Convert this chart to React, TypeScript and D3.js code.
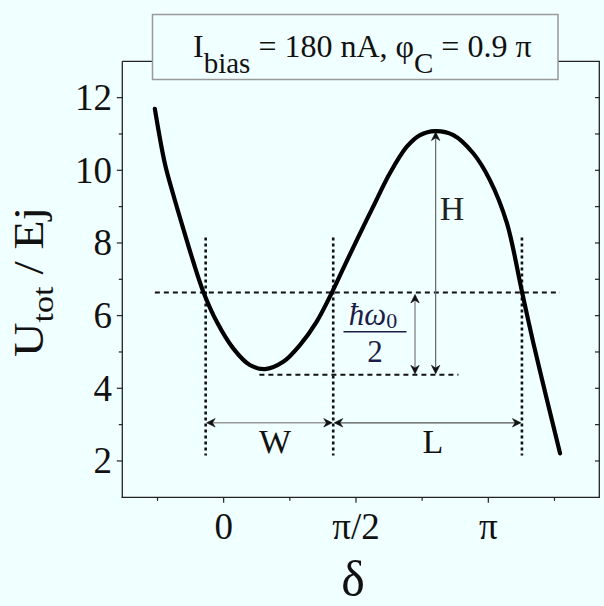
import React from "react";
import * as d3 from "d3";

// ---- data ----
const deltaPi = [-0.260, -0.222, -0.190, -0.153, -0.115, -0.077, -0.026, 0.036, 0.099, 0.156, 0.225, 0.288, 0.351, 0.408, 0.452, 0.503, 0.565, 0.628, 0.692, 0.742, 0.799, 0.868, 0.943, 1.006, 1.070, 1.126, 1.170, 1.221, 1.271];
const uValues = [11.69, 10.18, 9.32, 8.40, 7.49, 6.66, 5.83, 5.10, 4.64, 4.53, 4.73, 5.19, 5.83, 6.62, 7.30, 8.08, 9.00, 9.92, 10.65, 10.97, 11.08, 10.97, 10.47, 9.73, 8.55, 6.70, 5.25, 3.70, 2.21];

const yMajorTicks = [2, 4, 6, 8, 10, 12];
const yMinorTicks = [3, 5, 7, 9, 11];
const yAllTicks = [2, 3, 4, 5, 6, 7, 8, 9, 10, 11, 12];
const xMajorTicks = [0, 0.5, 1];
const xTickLabels = ["0", "π/2", "π"];
const xMinorTicks = [-0.25, 0.25, 0.75, 1.25];

// annotation values
const levelU = 6.64; // ħω0/2 level
const groundU = 4.37; // lower dashed level
const maxU = 11.08;
const crossings = [-0.068, 0.414, 1.127];
const vLineTopU = 8.15;
const vLineBottomU = 2.15;
const levelSpan = [-0.26, 1.271];
const groundSpan = [0.135, 0.887];
const hbarArrowX = 0.723;
const hArrowX = 0.801;
const wlArrowU = 3.05;

const W = 604;
const H = 606;
const BG = "#f0ffff";
const FONT = "'Liberation Serif', 'Times New Roman', serif";

function Arrow({ x, y, angle, color = "#111" }: { x: number; y: number; angle: number; color?: string }) {
  return (
    <path
      d="M0,0 L-8.5,-4.2 L-5.8,0 L-8.5,4.2 Z"
      transform={`translate(${x},${y}) rotate(${angle})`}
      fill={color}
      stroke={color}
      strokeWidth={0.6}
      strokeLinejoin="round"
    />
  );
}

export default function App() {
  const x = d3.scaleLinear().domain([-0.383, 1.422]).range([122.3, 600]);
  const y = d3.scaleLinear().domain([1, 13]).range([497.3, 61.3]);

  const pts: [number, number][] = deltaPi.map((d, i) => [d, uValues[i]]);
  const line = d3
    .line<[number, number]>()
    .x((d) => x(d[0]))
    .y((d) => y(d[1]))
    .curve(d3.curveCatmullRom.alpha(0.5));

  const x0 = x.range()[0];
  const x1 = x.range()[1];
  const yTop = y.range()[1];
  const yBot = y.range()[0];

  return (
    <div style={{ position: "fixed", left: 0, top: 0, width: W, height: H }}>
      <svg width={W} height={H} style={{ display: "block", fontFamily: FONT }}>
        <rect x={0} y={0} width={W} height={H} fill={BG} />

        {/* frame */}
        <g stroke="#222" strokeWidth={1.3} fill="none">
          <line x1={x0} y1={yTop} x2={x1} y2={yTop} />
          <line x1={x1 - 0.7} y1={yTop} x2={x1 - 0.7} y2={yBot} />
          <line x1={x0} y1={yTop} x2={x0} y2={yBot + 0.6} />
          <line x1={x0 - 0.6} y1={yBot} x2={x1} y2={yBot} />
        </g>

        {/* ticks */}
        <g stroke="#222" strokeWidth={1.2}>
          {yMajorTicks.map((t) => (
            <line key={"ym" + t} x1={x0 - 5.5} x2={x0} y1={y(t)} y2={y(t)} />
          ))}
          {yMinorTicks.map((t) => (
            <line key={"yn" + t} x1={x0 - 3.5} x2={x0} y1={y(t)} y2={y(t)} />
          ))}
          {yAllTicks.map((t) => (
            <line key={"yr" + t} x1={x1 - 5} x2={x1} y1={y(t)} y2={y(t)} />
          ))}
          {xMajorTicks.map((t) => (
            <line key={"xm" + t} x1={x(t)} x2={x(t)} y1={yBot} y2={yBot + 5.5} />
          ))}
          {xMinorTicks.map((t) => (
            <line key={"xn" + t} x1={x(t)} x2={x(t)} y1={yBot} y2={yBot + 3.5} />
          ))}
        </g>

        {/* tick labels */}
        <g fontSize={37} fill="#111">
          {yMajorTicks.map((t) => (
            <text key={"yl" + t} x={112} y={y(t) + 12.5} textAnchor="end">
              {t}
            </text>
          ))}
          {xMajorTicks.map((t, i) => (
            <text key={"xl" + t} x={x(t)} y={538.5} textAnchor="middle">
              {xTickLabels[i]}
            </text>
          ))}
        </g>

        {/* axis titles */}
        <text x={353} y={596} fontSize={50} textAnchor="middle" fill="#111">
          δ
        </text>
        <text
          transform={`translate(43,282) rotate(-90)`}
          fontSize={42}
          textAnchor="middle"
          fill="#111"
          textLength={150}
          lengthAdjust="spacingAndGlyphs"
        >
          <tspan>U</tspan>
          <tspan fontSize={30} dy={10}>tot</tspan>
          <tspan dy={-10}>{" / Ej"}</tspan>
        </text>

        {/* horizontal dashed levels */}
        <line
          x1={x(levelSpan[0])}
          x2={x(levelSpan[1])}
          y1={y(levelU)}
          y2={y(levelU)}
          stroke="#111"
          strokeWidth={2}
          strokeDasharray="5,4"
        />
        <line
          x1={x(groundSpan[0])}
          x2={x(groundSpan[1])}
          y1={y(groundU)}
          y2={y(groundU)}
          stroke="#111"
          strokeWidth={2}
          strokeDasharray="5,4"
        />

        {/* vertical dotted lines */}
        {crossings.map((c) => (
          <line
            key={"v" + c}
            x1={x(c)}
            x2={x(c)}
            y1={y(vLineTopU)}
            y2={y(vLineBottomU)}
            stroke="#111"
            strokeWidth={2.6}
            strokeDasharray="3,3"
          />
        ))}

        {/* H arrow */}
        <line x1={x(hArrowX)} x2={x(hArrowX)} y1={y(maxU) + 2} y2={y(groundU) - 2} stroke="#666" strokeWidth={1.2} />
        <Arrow x={x(hArrowX)} y={y(maxU) + 1} angle={-90} />
        <Arrow x={x(hArrowX)} y={y(groundU) - 1} angle={90} />
        <text x={x(hArrowX) + 4} y={219.5} fontSize={34} fill="#222">
          H
        </text>

        {/* ħω0/2 arrow */}
        <line x1={x(hbarArrowX)} x2={x(hbarArrowX)} y1={y(levelU) + 3} y2={y(groundU) - 2} stroke="#999" strokeWidth={1.6} />
        <Arrow x={x(hbarArrowX)} y={y(levelU) + 2} angle={-90} />
        <Arrow x={x(hbarArrowX)} y={y(groundU) - 1} angle={90} />
        <g fill="#1c1c48">
          <text x={373} y={325} fontSize={31} textAnchor="middle" fontStyle="italic">
            <tspan>ħω</tspan>
            <tspan fontSize={22} fontStyle="normal" dy={3}>0</tspan>
          </text>
          <line x1={343.5} x2={406.5} y1={331.7} y2={331.7} stroke="#1c1c48" strokeWidth={1.6} />
          <text x={375} y={362} fontSize={31} textAnchor="middle">
            2
          </text>
        </g>

        {/* W / L arrows */}
        <line x1={x(crossings[0]) + 2} x2={x(crossings[1]) - 2} y1={y(wlArrowU)} y2={y(wlArrowU)} stroke="#999" strokeWidth={1.5} />
        <line x1={x(crossings[1]) + 2} x2={x(crossings[2]) - 2} y1={y(wlArrowU)} y2={y(wlArrowU)} stroke="#555" strokeWidth={1.2} />
        <Arrow x={x(crossings[0]) + 1} y={y(wlArrowU)} angle={180} />
        <Arrow x={x(crossings[1]) - 1} y={y(wlArrowU)} angle={0} />
        <Arrow x={x(crossings[1]) + 1} y={y(wlArrowU)} angle={180} />
        <Arrow x={x(crossings[2]) - 1} y={y(wlArrowU)} angle={0} />
        <text x={275} y={453} fontSize={34} textAnchor="middle" fill="#111">
          W
        </text>
        <text x={433} y={453} fontSize={34} textAnchor="middle" fill="#111">
          L
        </text>

        {/* curve */}
        <path d={line(pts) || ""} fill="none" stroke="#000" strokeWidth={4.2} strokeLinecap="round" strokeLinejoin="round" />

        {/* title box */}
        <rect x={152.5} y={14.5} width={405.5} height={65} fill={BG} stroke="#999" strokeWidth={1.5} />
        <text x={193} y={57} fontSize={32} fill="#111">
          <tspan>I</tspan>
          <tspan fontSize={29} dy={16}>bias</tspan>
          <tspan dy={-16}>{" = 180 nA, φ"}</tspan>
          <tspan fontSize={29} dy={16}>C</tspan>
          <tspan dy={-16}>{" = 0.9 π"}</tspan>
        </text>
      </svg>
    </div>
  );
}
